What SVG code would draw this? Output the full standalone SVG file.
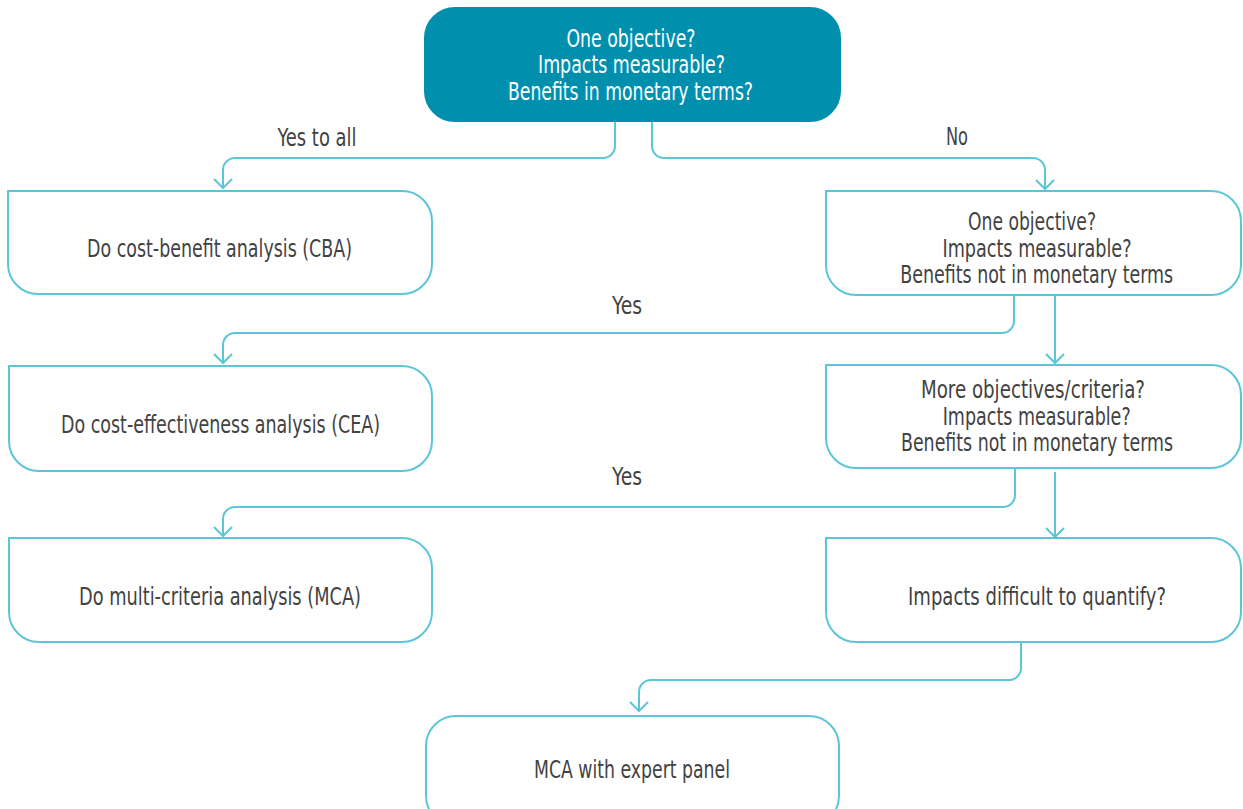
<svg xmlns="http://www.w3.org/2000/svg" width="1243" height="809" viewBox="0 0 1243 809">
<style>
  .box { fill: #ffffff; stroke: #5cc6d8; stroke-width: 2; }
  .top { fill: #0090ae; stroke: #0090ae; stroke-width: 2; }
  .conn { fill: none; stroke: #5cc6d8; stroke-width: 2; }
  text { font-family: "Liberation Sans Narrow", "DejaVu Sans Condensed", "Liberation Sans", sans-serif; font-size: 24px; text-anchor: middle; fill: #424242; }
  .w { fill: #ffffff; }
</style>
<defs>
  <marker id="arr" viewBox="0 0 20 20" markerWidth="20" markerHeight="20" refX="10" refY="10" orient="auto" markerUnits="userSpaceOnUse">
    <path d="M1,1 L10,10 L1,19" fill="none" stroke="#5cc6d8" stroke-width="2"/>
  </marker>
</defs>
<rect width="1243" height="809" fill="#ffffff"/>

<g id="connectors">
  <path class="conn" marker-end="url(#arr)" d="M615,121 V146 A12,12 0 0 1 603,158 H235 A12,12 0 0 0 223,170 V188"/>
  <path class="conn" marker-end="url(#arr)" d="M652,121 V146 A12,12 0 0 0 664,158 H1033 A12,12 0 0 1 1045,170 V189"/>
  <path class="conn" marker-end="url(#arr)" d="M1014,295 V321 A12,12 0 0 1 1002,333 H235 A12,12 0 0 0 223,345 V363"/>
  <path class="conn" marker-end="url(#arr)" d="M1055,295 V363"/>
  <path class="conn" marker-end="url(#arr)" d="M1015,468 V495 A12,12 0 0 1 1003,507 H235 A12,12 0 0 0 223,519 V536"/>
  <path class="conn" marker-end="url(#arr)" d="M1055,472 V537"/>
  <path class="conn" marker-end="url(#arr)" d="M1021,642 V668 A12,12 0 0 1 1009,680 H651 A12,12 0 0 0 639,692 V711"/>
  <text x="317" y="145.7" textLength="79" lengthAdjust="spacingAndGlyphs">Yes to all</text>
  <text x="957" y="145" textLength="22" lengthAdjust="spacingAndGlyphs">No</text>
  <text x="627" y="314.3" textLength="30" lengthAdjust="spacingAndGlyphs">Yes</text>
  <text x="627" y="485" textLength="30" lengthAdjust="spacingAndGlyphs">Yes</text>
</g>

<g id="node-start">
  <rect class="top" x="425" y="8" width="415" height="113" rx="30" ry="30"/>
  <text class="w" x="631" y="46.7" textLength="129" lengthAdjust="spacingAndGlyphs">One objective?</text>
  <text class="w" x="631.5" y="73" textLength="187" lengthAdjust="spacingAndGlyphs">Impacts measurable?</text>
  <text class="w" x="630.5" y="100" textLength="245" lengthAdjust="spacingAndGlyphs">Benefits in monetary terms?</text>
</g>

<g id="node-cba">
  <path class="box" d="M8,191 H402 A30,30 0 0 1 432,221 V264 A30,30 0 0 1 402,294 H38 A30,30 0 0 1 8,264 Z"/>
  <text x="219.5" y="256.7" textLength="265" lengthAdjust="spacingAndGlyphs">Do cost-benefit analysis (CBA)</text>
</g>

<g id="node-q2">
  <path class="box" d="M826,191 H1211 A30,30 0 0 1 1241,221 V265 A30,30 0 0 1 1211,295 H856 A30,30 0 0 1 826,265 Z"/>
  <text x="1032" y="230" textLength="128" lengthAdjust="spacingAndGlyphs">One objective?</text>
  <text x="1037" y="256.7" textLength="189" lengthAdjust="spacingAndGlyphs">Impacts measurable?</text>
  <text x="1036.7" y="282.7" textLength="273" lengthAdjust="spacingAndGlyphs">Benefits not in monetary terms</text>
</g>

<g id="node-cea">
  <path class="box" d="M9,366 H402 A30,30 0 0 1 432,396 V441 A30,30 0 0 1 402,471 H39 A30,30 0 0 1 9,441 Z"/>
  <text x="220.5" y="432.7" textLength="319" lengthAdjust="spacingAndGlyphs">Do cost-effectiveness analysis (CEA)</text>
</g>

<g id="node-q3">
  <path class="box" d="M826,365 H1211 A30,30 0 0 1 1241,395 V438 A30,30 0 0 1 1211,468 H856 A30,30 0 0 1 826,438 Z"/>
  <text x="1033" y="398.3" textLength="224" lengthAdjust="spacingAndGlyphs">More objectives/criteria?</text>
  <text x="1036.7" y="425" textLength="188" lengthAdjust="spacingAndGlyphs">Impacts measurable?</text>
  <text x="1037" y="451" textLength="272" lengthAdjust="spacingAndGlyphs">Benefits not in monetary terms</text>
</g>

<g id="node-mca">
  <path class="box" d="M9,538 H402 A30,30 0 0 1 432,568 V612 A30,30 0 0 1 402,642 H39 A30,30 0 0 1 9,612 Z"/>
  <text x="220" y="605" textLength="282" lengthAdjust="spacingAndGlyphs">Do multi-criteria analysis (MCA)</text>
</g>

<g id="node-q4">
  <path class="box" d="M826,538 H1211 A30,30 0 0 1 1241,568 V612 A30,30 0 0 1 1211,642 H856 A30,30 0 0 1 826,612 Z"/>
  <text x="1037" y="605" textLength="258" lengthAdjust="spacingAndGlyphs">Impacts difficult to quantify?</text>
</g>

<g id="node-expert">
  <rect class="box" x="426" y="716" width="413" height="110" rx="30" ry="30"/>
  <text x="632" y="778" textLength="196" lengthAdjust="spacingAndGlyphs">MCA with expert panel</text>
</g>
</svg>
